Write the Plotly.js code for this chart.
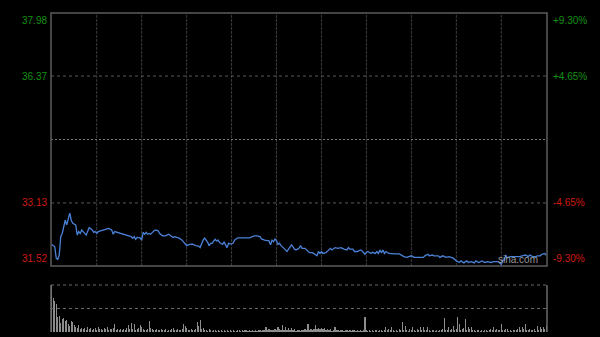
<!DOCTYPE html>
<html>
<head>
<meta charset="utf-8">
<script src="https://cdn.plot.ly/plotly-3.0.1.min.js"></script>
<style>
html,body{margin:0;padding:0;background:#000;}
#chart{width:600px;height:337px;}
</style>
</head>
<body>
<div id="chart"></div>
<script>
// Intraday price (minute index from open, price)
var minutes = [0,2,3,4,5,6,7,8,9,10,11,12,13,14,16,17,18,19,20,21,23,24,25,27,28,29,30,31,34,36,38,40,41,42,44,46,48,50,53,54,55,56,57,59,60,61,62,63,64,65,66,68,69,71,72,74,76,78,80,81,82,85,87,89,90,92,94,96,98,99,100,101,102,104,105,106,107,108,109,110,111,112,114,115,116,117,118,119,121,122,124,126,129,132,135,137,139,140,142,145,146,147,148,149,150,151,152,153,155,156,157,158,159,160,161,162,163,165,166,167,169,171,172,174,176,177,178,179,180,181,183,184,186,187,189,191,193,195,197,198,199,201,202,204,206,207,209,210,211,213,214,216,217,218,219,220,221,222,223,225,227,229,232,233,235,237,238,240,242,244,248,249,251,252,254,255,258,259,261,263,265,268,270,272,273,275,277,278,280,282,283,285,287,289,291,293,295,298,299,300,301,302,303,304,306,308,310,312,314,316,318,319,321,323,324,326,327,329,330];
var prices = [32.07,32.01,31.72,31.69,31.80,32.27,32.35,32.52,32.69,32.57,32.74,32.87,32.69,32.61,32.57,32.31,32.40,32.35,32.44,32.40,32.31,32.41,32.50,32.44,32.38,32.40,32.35,32.40,32.44,32.46,32.48,32.44,32.33,32.40,32.38,32.35,32.34,32.31,32.27,32.23,32.27,32.20,32.25,32.24,32.18,32.38,32.33,32.38,32.33,32.35,32.33,32.41,32.44,32.42,32.35,32.29,32.29,32.33,32.29,32.25,32.27,32.23,32.18,32.10,32.04,32.07,32.08,32.04,32.03,31.99,32.10,32.18,32.23,32.13,32.04,32.10,32.10,32.17,32.20,32.16,32.18,32.12,32.07,32.13,32.07,31.99,32.10,32.08,32.10,32.18,32.24,32.24,32.24,32.24,32.29,32.29,32.27,32.21,32.18,32.16,32.06,32.18,32.14,32.21,32.16,32.07,32.10,32.04,31.97,31.93,31.89,31.95,32.01,32.06,32.01,31.95,31.93,31.97,32.04,31.97,31.97,31.90,31.86,31.86,31.82,31.78,31.89,31.84,31.89,31.84,31.86,31.89,31.97,31.93,31.99,31.97,31.99,31.95,31.93,31.99,31.95,31.95,31.89,31.89,31.93,31.91,31.82,31.87,31.89,31.84,31.87,31.84,31.89,31.84,31.93,31.86,31.93,31.84,31.89,31.84,31.83,31.83,31.83,31.80,31.76,31.74,31.76,31.78,31.74,31.74,31.74,31.78,31.82,31.78,31.80,31.78,31.78,31.74,31.78,31.74,31.76,31.72,31.65,31.61,31.65,31.60,31.65,31.61,31.63,31.60,31.65,31.61,31.65,31.61,31.63,31.61,31.63,31.63,31.59,31.56,31.67,31.67,31.80,31.73,31.76,31.76,31.76,31.76,31.78,31.80,31.76,31.80,31.76,31.76,31.78,31.78,31.82,31.84,31.80];

// Per-minute volume (relative units, 100 = panel top)
var volume = [
100,72,66,60,32,34,20,28,30,23,
26,18,12,23,21,15,11,8,15,6,
8,6,9,5,10,7,9,5,6,8,
5,10,6,7,5,8,6,10,5,7,
6,8,17,5,6,4,7,5,6,4,
8,15,6,20,7,18,5,6,8,15,
10,6,5,4,7,23,9,6,4,5,
6,4,5,7,4,5,6,3,5,4,
6,8,5,4,6,5,4,6,17,13,
9,5,4,6,5,4,7,21,13,26,
6,8,4,5,3,6,4,3,5,4,
3,4,3,5,3,4,3,4,3,5,
3,4,3,3,5,4,3,4,3,4,
4,3,5,3,4,3,4,3,5,4,
3,4,5,10,4,7,4,5,4,6,
5,11,6,4,15,5,10,4,8,5,
8,4,6,3,5,4,3,5,4,6,
4,17,5,6,4,7,15,6,8,7,
8,6,8,5,7,4,6,3,5,10,
4,5,3,4,4,3,4,5,3,4,
3,4,4,3,5,3,4,3,4,31,
4,3,4,3,4,3,4,5,3,4,
4,3,5,10,4,6,4,11,5,3,
4,3,6,4,21,5,13,4,3,6,
4,10,5,3,6,4,10,5,11,4,
5,10,4,3,5,4,3,4,3,5,
4,6,29,4,5,11,4,6,13,5,
7,31,17,5,6,8,27,5,10,6,
11,4,5,3,4,5,3,4,3,4,
5,3,4,6,4,10,5,6,4,5,
17,5,4,6,6,3,4,3,4,5,
4,6,10,5,11,6,17,5,4,6,
5,4,6,3,13,5,11,6,10,7,
13];
var volMinutes = volume.map(function(v,i){return i;});

// Axis labels
var priceTicks = [37.98, 36.37, 33.13, 31.52];
var pctTicks = ['+9.30%', '+4.65%', '-4.65%', '-9.30%'];
var prevClose = 34.75;
var gridMinutes = [30,60,90,120,150,180,210,240,270,300];

var GREEN = '#129212', RED = '#cf1a10';
var tickColors = [GREEN, GREEN, RED, RED];
var tickAnchors = ['top', 'middle', 'middle', 'bottom'];

var traces = [
  {x: minutes, y: prices, type: 'scatter', mode: 'lines',
   line: {color: '#4a82d8', width: 1.3}, xaxis: 'x', yaxis: 'y', hoverinfo: 'skip'},
  {x: volMinutes, y: volume, type: 'bar', marker: {color: '#8c8c8c', line: {width: 0}},
   width: 0.75, xaxis: 'x2', yaxis: 'y2', hoverinfo: 'skip'}
];

var shapes = [];
// vertical dashed grid in price panel
gridMinutes.forEach(function(m){
  shapes.push({type: 'line', xref: 'x', yref: 'y domain', x0: m, x1: m, y0: 0, y1: 1,
    line: {color: '#3c3c3c', width: 1, dash: '3px,1px'}, layer: 'below'});
});
// horizontal grid
[36.37, 33.13].forEach(function(v){
  shapes.push({type: 'line', xref: 'x domain', yref: 'y', x0: 0, x1: 1, y0: v, y1: v,
    line: {color: '#5a5a5a', width: 1, dash: 'dot'}, layer: 'below'});
});
shapes.push({type: 'line', xref: 'x domain', yref: 'y', x0: 0, x1: 1, y0: prevClose, y1: prevClose,
  line: {color: '#7a7a7a', width: 1, dash: '2px,2px'}, layer: 'below'});
// price panel border
shapes.push({type: 'rect', xref: 'x domain', yref: 'y domain', x0: 0, x1: 1, y0: 0, y1: 1,
  line: {color: '#5c5c5c', width: 1.5}, fillcolor: 'rgba(0,0,0,0)'});
// volume panel
shapes.push({type: 'line', xref: 'x2 domain', yref: 'y2 domain', x0: 0, x1: 1, y0: 1, y1: 1,
  line: {color: '#6a6a6a', width: 1, dash: 'dot'}});
shapes.push({type: 'line', xref: 'x2 domain', yref: 'y2 domain', x0: 0, x1: 1, y0: 0.5, y1: 0.5,
  line: {color: '#6a6a6a', width: 1, dash: 'dot'}});
shapes.push({type: 'line', xref: 'x2 domain', yref: 'y2 domain', x0: 0, x1: 0, y0: 0, y1: 1,
  line: {color: '#6a6a6a', width: 1.5}});
shapes.push({type: 'line', xref: 'x2 domain', yref: 'y2 domain', x0: 1, x1: 1, y0: 0, y1: 1,
  line: {color: '#6a6a6a', width: 1.5}});

var annotations = [];
priceTicks.forEach(function(v, i){
  annotations.push({xref: 'paper', yref: 'y', x: 0, y: v, text: v.toFixed(2), showarrow: false,
    xanchor: 'right', yanchor: tickAnchors[i], xshift: -2,
    font: {family: 'Liberation Sans, Arial, sans-serif', size: 10, color: tickColors[i]}});
  annotations.push({xref: 'paper', yref: 'y', x: 1, y: v, text: pctTicks[i], showarrow: false,
    xanchor: 'left', yanchor: tickAnchors[i], xshift: 4,
    font: {family: 'Liberation Sans, Arial, sans-serif', size: 10, color: tickColors[i]}});
});
annotations.push({xref: 'paper', yref: 'y domain', x: 0.985, y: 0.0, text: 'sina.com', showarrow: false,
  xanchor: 'right', yanchor: 'bottom', yshift: -1,
  font: {family: 'Liberation Sans, Arial, sans-serif', size: 10, color: '#9a9a9a'}});

var layout = {
  width: 600, height: 337,
  margin: {l: 51, r: 53, t: 13, b: 5, pad: 0},
  paper_bgcolor: '#000', plot_bgcolor: '#000',
  showlegend: false, bargap: 0,
  xaxis: {domain: [0, 1], range: [-0.5, 330.5], showgrid: false, zeroline: false,
          showticklabels: false, showline: false, ticks: '', anchor: 'y', fixedrange: true},
  yaxis: {domain: [0.2069, 1], range: [31.52, 37.98], showgrid: false, zeroline: false,
          showticklabels: false, showline: false, ticks: '', anchor: 'x', fixedrange: true},
  xaxis2: {domain: [0, 1], range: [-0.5, 330.5], showgrid: false, zeroline: false,
          showticklabels: false, showline: false, ticks: '', anchor: 'y2', fixedrange: true},
  yaxis2: {domain: [0, 0.1473], range: [0, 100], showgrid: false, zeroline: false,
          showticklabels: false, showline: false, ticks: '', anchor: 'x2', fixedrange: true},
  shapes: shapes,
  annotations: annotations
};

Plotly.newPlot('chart', traces, layout, {displayModeBar: false, staticPlot: true});
</script>
</body>
</html>
